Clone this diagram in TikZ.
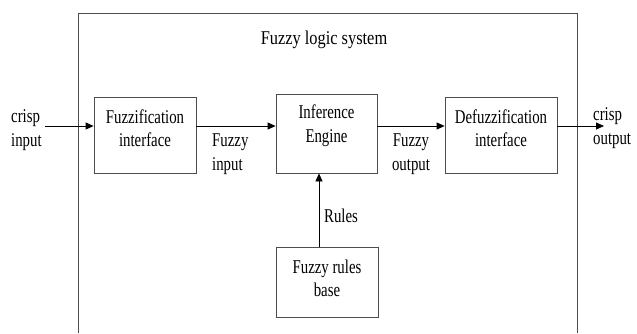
\documentclass[tikz,border=0pt]{standalone}
\usepackage{fontspec}
\setmainfont{Liberation Serif}[FakeStretch=0.76]
\newfontfamily\titlefont{Liberation Serif}[FakeStretch=0.84]
\usepackage{tikz}
\usetikzlibrary{arrows.meta,positioning}

\begin{document}
\begin{tikzpicture}[x=1pt, y=-1pt,
    blk/.style={rectangle, draw=black!70, line width=0.8pt, align=center, text depth=14pt},
    lbl/.style={align=left, inner sep=0pt},
    >={Triangle[length=8pt,width=7pt]},
    font=\fontsize{19.5}{23.5}\selectfont]
    \useasboundingbox (0,0) rectangle (637,333);
    % outer frame, open at the bottom
    \draw[black!70, line width=0.8pt] (78,333) -- (78,13) -- (577,13) -- (577,333);
    \node[font=\titlefont\fontsize{19.5}{23.5}\selectfont] (title) at (324,40) {Fuzzy logic system};

    \node[blk, minimum width=102, minimum height=76] (fuz) at (145,135)   {Fuzzification\\interface};
    \node[blk, minimum width=101, minimum height=79, text depth=20pt] (inf) at (326.5,133.5) {Inference\\Engine};
    \node[blk, minimum width=112, minimum height=76] (defuz) at (501,135) {Defuzzification\\interface};
    \node[blk, minimum width=102, minimum height=70, text depth=8pt] (rb) at (327,282) {Fuzzy rules\\base};

    \coordinate (cin)  at (45,126);
    \coordinate (cout) at (604,126);
    \coordinate (rul)  at (319,247);

    \draw[->, line width=0.8pt] (cin) -- (cin -| fuz.west);
    \draw[->, line width=0.8pt] (fuz.east |- cin) -- (inf.west |- cin);
    \draw[->, line width=0.8pt] (inf.east |- cin) -- (defuz.west |- cin);
    \draw[->, line width=0.8pt] (defuz.east |- cin) -- (cout);
    \draw[->, line width=0.8pt] (rul) -- (rul |- inf.south);

    \node[lbl, anchor=west] (lin)   at (11,130)  {crisp\\input};
    \node[lbl, anchor=west] (lfin)  at (212,154) {Fuzzy\\input};
    \node[align=center, inner sep=0pt] (lfout) at (411,154) {Fuzzy\\output};
    \node[lbl, anchor=west] (lout)  at (593,128) {crisp\\output};
    \node[lbl, anchor=west] (lrul)  at (324,216) {Rules};
  \end{tikzpicture}
\end{document}
